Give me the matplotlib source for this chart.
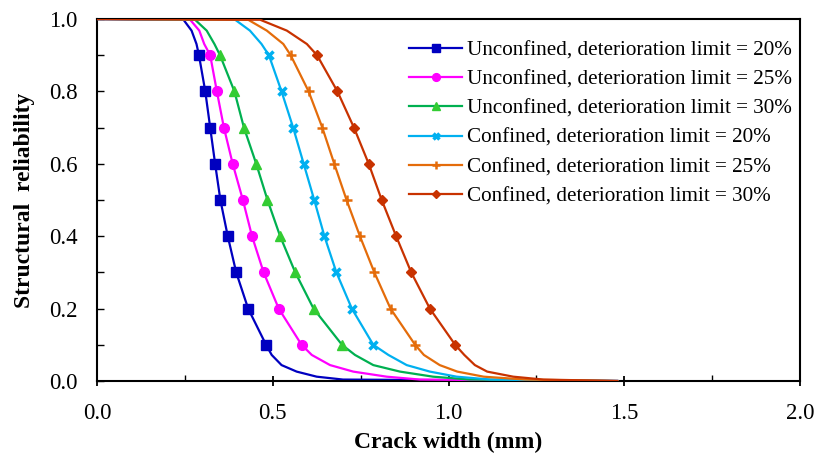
import matplotlib
matplotlib.use('Agg')
import matplotlib.pyplot as plt
from matplotlib.lines import Line2D
from matplotlib.ticker import MultipleLocator

plt.rcParams['font.family'] = ['Liberation Serif', 'DejaVu Serif']

# reliability levels where the markers sit
levels = [0.9, 0.8, 0.7, 0.6, 0.5, 0.4, 0.3, 0.2, 0.1]
# reliability values of the extra points read on the shoulder and the tail
top_y = [1.0, 0.998, 0.968, 0.931]
bot_y = [0.072, 0.044, 0.026, 0.012, 0.004, 0.0]

labels = ['Unconfined, deterioration limit = 20%',
          'Unconfined, deterioration limit = 25%',
          'Unconfined, deterioration limit = 30%',
          'Confined, deterioration limit = 20%',
          'Confined, deterioration limit = 25%',
          'Confined, deterioration limit = 30%']

# crack width (mm)
unc20_top = [0.0, 0.246, 0.269, 0.283]
unc20_mark = [0.290, 0.308, 0.322, 0.336, 0.351, 0.372, 0.396, 0.430, 0.481]
unc20_bot = [0.497, 0.525, 0.568, 0.625, 0.700, 1.48]

unc25_top = [0.0, 0.265, 0.291, 0.305]
unc25_mark = [0.322, 0.341, 0.361, 0.386, 0.415, 0.441, 0.474, 0.517, 0.582]
unc25_bot = [0.611, 0.663, 0.729, 0.824, 0.919, 1.48]

unc30_top = [0.0, 0.279, 0.312, 0.334]
unc30_mark = [0.350, 0.391, 0.418, 0.453, 0.485, 0.521, 0.564, 0.616, 0.697]
unc30_bot = [0.734, 0.786, 0.862, 0.956, 1.060, 1.48]

con20_top = [0.0, 0.393, 0.435, 0.468]
con20_mark = [0.489, 0.525, 0.558, 0.588, 0.618, 0.647, 0.681, 0.725, 0.786]
con20_bot = [0.829, 0.881, 0.947, 1.023, 1.120, 1.48]

con25_top = [0.0, 0.430, 0.483, 0.530]
con25_mark = [0.551, 0.602, 0.641, 0.675, 0.710, 0.748, 0.789, 0.835, 0.905]
con25_bot = [0.930, 0.975, 1.025, 1.100, 1.220, 1.48]

con30_top = [0.0, 0.464, 0.540, 0.597]
con30_mark = [0.626, 0.684, 0.731, 0.773, 0.810, 0.851, 0.894, 0.947, 1.019]
con30_bot = [1.045, 1.075, 1.110, 1.184, 1.270, 1.48]

series = [
    (unc20_top, unc20_mark, unc20_bot),
    (unc25_top, unc25_mark, unc25_bot),
    (unc30_top, unc30_mark, unc30_bot),
    (con20_top, con20_mark, con20_bot),
    (con25_top, con25_mark, con25_bot),
    (con30_top, con30_mark, con30_bot),
]

line_colors = ['#0000C0', '#FF00FF', '#00B050', '#00B0F0', '#E46C0A', '#C83200']
marker_colors = ['#0000C0', '#FF00FF', '#33CC33', '#00B0F0', '#E46C0A', '#C83200']
markers = ['s', 'o', '^', 'x', '+', 'D']
msizes = [6.5, 7, 7, 6, 7, 5.5]
mews = [1, 1, 1, 2.5, 1.8, 1]

fig = plt.figure(figsize=(8.18, 4.55), dpi=100)
ax = fig.add_axes([0.1186, 0.1626, 0.8594, 0.7956])

handles = []
for i, (tx, mx, bx) in enumerate(series):
    cx = tx + mx + bx
    cy = top_y + levels + bot_y
    ax.plot(cx, cy, color=line_colors[i], lw=1.6, zorder=2 + i)
    ax.plot(mx, levels, ls='none', marker=markers[i], ms=msizes[i],
            mfc=marker_colors[i], mec=marker_colors[i], mew=mews[i], zorder=2 + i)
    handles.append(Line2D([], [], color=line_colors[i], lw=1.6, marker=markers[i],
                          ms=msizes[i] * 0.8, mfc=marker_colors[i],
                          mec=marker_colors[i], mew=mews[i]))

ax.set_xlim(0, 2.0)
ax.set_ylim(0, 1.0)
ax.xaxis.set_major_locator(MultipleLocator(0.5))
ax.xaxis.set_minor_locator(MultipleLocator(0.25))
ax.yaxis.set_major_locator(MultipleLocator(0.2))
ax.yaxis.set_minor_locator(MultipleLocator(0.1))
ax.xaxis.set_major_formatter(matplotlib.ticker.FormatStrFormatter('%.1f'))
ax.yaxis.set_major_formatter(matplotlib.ticker.FormatStrFormatter('%.1f'))

ax.tick_params(axis='x', which='major', direction='inout', length=7, width=1.3,
               labelsize=16.5, pad=12)
ax.tick_params(axis='x', which='minor', direction='in', length=4, width=1)
ax.tick_params(axis='y', which='both', direction='in', length=5, width=1,
               labelsize=16.5, pad=14)
for s in ax.spines.values():
    s.set_linewidth(1.5)

ax.set_xlabel('Crack width (mm)', fontsize=17, fontweight='bold', labelpad=6)
ax.set_ylabel('Structural  reliability', fontsize=17, fontweight='bold', labelpad=10)

ax.legend(handles, labels, loc='upper right', frameon=False, fontsize=15.2,
          handlelength=2.5, handletextpad=0.25, labelspacing=0.45,
          borderaxespad=0.3, bbox_to_anchor=(1.01, 0.982))

fig.savefig('out.png', dpi=100)
